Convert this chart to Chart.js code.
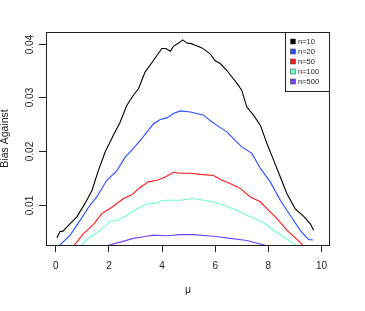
<!DOCTYPE html>
<html>
<head>
<meta charset="utf-8">
<script src="https://cdn.jsdelivr.net/npm/chart.js@4/dist/chart.umd.min.js"></script>
<style>
  html, body { margin: 0; padding: 0; background: #fff; }
  #wrap { width: 365px; height: 311px; }
</style>
</head>
<body>
<div id="wrap"><canvas id="c" width="365" height="311"></canvas></div>
<script>
// ---- data ----
const seriesLabels = ['n=10', 'n=20', 'n=50', 'n=100', 'n=500'];
const seriesColors = ['#000000', '#2a4bff', '#ff1a1a', '#6fffcc', '#7444f4'];

const muN10 = [0.04,0.16,0.26,0.41,0.79,1.10,1.36,1.60,1.86,2.17,2.42,2.67,2.92,3.11,3.36,3.68,3.99,4.14,4.31,4.43,4.62,4.78,4.93,5.10,5.25,5.50,5.81,6.00,6.19,6.44,6.63,6.82,7.00,7.19,7.44,7.70,7.95,8.20,8.45,8.70,9.01,9.33,9.58,9.70];
const biasN10 = [0.0039,0.0051,0.0051,0.0059,0.0078,0.0103,0.0127,0.0164,0.0199,0.0230,0.0254,0.0285,0.0304,0.0316,0.0347,0.0369,0.0391,0.0391,0.0386,0.0395,0.0401,0.0407,0.0401,0.0400,0.0397,0.0392,0.0381,0.0368,0.0363,0.0350,0.0338,0.0326,0.0313,0.0282,0.0267,0.0248,0.0214,0.0183,0.0152,0.0121,0.0093,0.0079,0.0065,0.0053];

const muN20 = [0.14,0.54,0.92,1.29,1.54,1.92,2.30,2.61,2.86,3.18,3.43,3.68,3.93,4.18,4.43,4.68,5.06,5.31,5.56,5.81,6.06,6.44,6.75,7.00,7.38,7.70,8.07,8.45,8.82,9.20,9.51,9.68];
const biasN20 = [0.0025,0.0044,0.0072,0.0100,0.0115,0.0146,0.0164,0.0189,0.0202,0.0220,0.0236,0.0251,0.0259,0.0262,0.0270,0.0275,0.0273,0.0270,0.0267,0.0257,0.0248,0.0236,0.0220,0.0208,0.0196,0.0168,0.0143,0.0109,0.0081,0.0053,0.0036,0.0035];

const muN50 = [0.69,1.04,1.42,1.73,2.11,2.55,2.86,3.18,3.49,3.80,4.12,4.43,4.68,5.06,5.44,5.94,6.25,6.56,6.94,7.32,7.70,8.01,8.32,8.70,9.08,9.30];
const biasN50 = [0.0025,0.0047,0.0064,0.0084,0.0096,0.0112,0.0119,0.0133,0.0143,0.0146,0.0152,0.0161,0.0159,0.0159,0.0157,0.0155,0.0146,0.0140,0.0131,0.0115,0.0106,0.0090,0.0075,0.0053,0.0036,0.0025];

const muN100 = [0.95,1.29,1.67,2.05,2.36,2.67,3.05,3.43,3.80,4.05,4.68,5.18,5.81,6.31,6.82,7.32,7.82,8.20,8.57,9.05];
const biasN100 = [0.0025,0.0041,0.0053,0.0070,0.0072,0.0081,0.0093,0.0102,0.0104,0.0109,0.0109,0.0112,0.0107,0.0100,0.0090,0.0078,0.0067,0.0053,0.0041,0.0025];

const muN500 = [1.98,2.42,2.92,3.30,3.68,4.18,4.68,5.18,5.94,6.56,7.19,7.88];
const biasN500 = [0.0025,0.0031,0.0038,0.0041,0.0044,0.0043,0.0045,0.0045,0.0042,0.0038,0.0034,0.0025];

const xTicks = [0, 2, 4, 6, 8, 10];
const yTicks = [0.01, 0.02, 0.03, 0.04];
const xTitle = 'μ';
const yTitle = 'Bias Against';

// ---- build chart ----
const muSets = [muN10, muN20, muN50, muN100, muN500];
const biasSets = [biasN10, biasN20, biasN50, biasN100, biasN500];
const FONT = "'Liberation Sans', Arial, sans-serif";
const INK = '#222';

const datasets = seriesLabels.map((lab, i) => ({
  label: lab,
  data: muSets[i].map((m, j) => ({ x: m, y: biasSets[i][j] })),
  borderColor: seriesColors[i],
  backgroundColor: seriesColors[i],
  borderWidth: 1.1,
  pointRadius: 0,
  tension: 0,
  fill: false
}));

const decor = {
  id: 'decor',
  afterDraw(chart) {
    const ctx = chart.ctx;
    const a = chart.chartArea;
    const ys = chart.scales.y;
    ctx.save();
    // plot box
    ctx.strokeStyle = INK;
    ctx.lineWidth = 1;
    ctx.strokeRect(Math.round(a.left) + 0.5, Math.round(a.top) + 0.5,
                   Math.round(a.right) - Math.round(a.left) - 1, Math.round(a.bottom) - Math.round(a.top));
    // y tick marks and rotated labels (R style)
    ctx.fillStyle = INK;
    ctx.font = '10px ' + FONT;
    ctx.textAlign = 'center';
    ctx.textBaseline = 'middle';
    yTicks.forEach(v => {
      const py = Math.round(ys.getPixelForValue(v)) + 0.5;
      ctx.beginPath();
      ctx.moveTo(Math.round(a.left) - 7, py);
      ctx.lineTo(Math.round(a.left), py);
      ctx.stroke();
      ctx.save();
      ctx.translate(30.5, py);
      ctx.rotate(-Math.PI / 2);
      ctx.fillText(v.toFixed(2), 0, 0);
      ctx.restore();
    });
    // y title
    ctx.save();
    ctx.font = '10.5px ' + FONT;
    ctx.translate(5, (a.top + a.bottom) / 2);
    ctx.rotate(-Math.PI / 2);
    ctx.fillText(yTitle, 0, 0);
    ctx.restore();
    // x title
    ctx.font = '10.5px ' + FONT;
    ctx.fillText(xTitle, (a.left + a.right) / 2, 290);
    // legend
    const lx = 285, ly = Math.round(a.top), lw = Math.round(a.right) - lx, lh = 59;
    ctx.fillStyle = '#fff';
    ctx.fillRect(lx, ly, lw, lh);
    ctx.strokeStyle = INK;
    ctx.lineWidth = 1;
    ctx.strokeRect(lx + 0.5, ly + 0.5, lw - 1, lh);
    ctx.font = '7.5px ' + FONT;
    ctx.textAlign = 'left';
    chart.data.datasets.forEach((ds, i) => {
      const cy = ly + 9.5 + i * 10;
      ctx.fillStyle = ds.borderColor;
      ctx.fillRect(290.5, cy - 2.5, 5, 5);
      ctx.strokeStyle = '#333';
      ctx.lineWidth = 0.5;
      ctx.strokeRect(290.5, cy - 2.5, 5, 5);
      ctx.fillStyle = INK;
      ctx.fillText(ds.label, 298, cy + 0.5);
    });
    ctx.restore();
  }
};

new Chart(document.getElementById('c'), {
  type: 'line',
  data: { datasets },
  options: {
    responsive: false,
    devicePixelRatio: 1,
    animation: false,
    layout: { padding: { top: 32, right: 35, bottom: 0, left: 0 } },
    plugins: { legend: { display: false }, tooltip: { enabled: false } },
    scales: {
      x: {
        type: 'linear',
        min: -0.37,
        max: 10.32,
        afterBuildTicks: s => { s.ticks = xTicks.map(v => ({ value: v })); },
        afterFit: s => { s.height = 66; },
        border: { display: false },
        grid: { drawOnChartArea: false, drawTicks: true, tickLength: 7, color: INK, lineWidth: 1 },
        ticks: {
          autoSkip: false, maxRotation: 0, minRotation: 0,
          color: INK, padding: 8,
          font: { family: FONT, size: 10 },
          callback: v => String(v)
        }
      },
      y: {
        type: 'linear',
        min: 0.00257,
        max: 0.04216,
        afterBuildTicks: s => { s.ticks = yTicks.map(v => ({ value: v })); },
        afterFit: s => { s.width = 46; },
        border: { display: false },
        grid: { display: false },
        ticks: { display: false }
      }
    }
  },
  plugins: [decor]
});
</script>
</body>
</html>
